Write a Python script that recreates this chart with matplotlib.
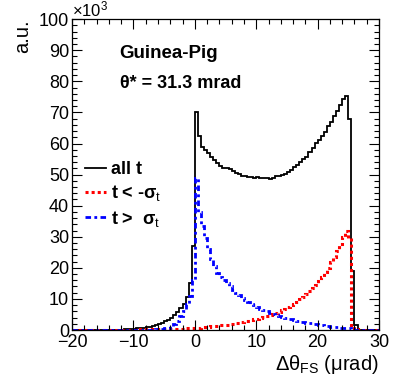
import numpy as np
import matplotlib
matplotlib.use("Agg")
import matplotlib.pyplot as plt
from matplotlib.ticker import MultipleLocator

plt.rcParams['font.family'] = ['Liberation Sans', 'DejaVu Sans']
plt.rcParams['mathtext.fontset'] = 'custom'
plt.rcParams['mathtext.rm'] = 'Liberation Sans'
plt.rcParams['mathtext.it'] = 'Liberation Sans'
plt.rcParams['mathtext.bf'] = 'Liberation Sans:bold'

# bin edges: -20 .. 30 urad, 0.5 urad wide
edges = np.arange(-20, 30.001, 0.5)

# all t  (x10^3 entries per bin)
all_left = [0, 0, 0, 0, 0, 0, 0, 0, 0, 0, 0, 0,
            0.03, 0.05, 0.08, 0.1, 0.15, 0.2, 0.25, 0.32,
            0.4, 0.5, 0.6, 0.75, 0.9, 1.1, 1.3, 1.6, 1.9, 2.3,
            2.8, 3.3, 4.0, 4.8, 5.8, 7.0, 8.5, 10.5, 15.0, 27.0]
all_right = [70.0,
             62.5, 59.0, 57.9, 56.8, 55.7, 54.6, 53.6, 52.7, 52.2, 52.0,
             51.7, 51.2, 50.6, 50.1, 49.7, 49.4, 49.3, 49.1, 49.0, 49.1,
             49.0, 48.9, 48.9, 48.7, 49.0, 49.4, 49.5, 49.8, 50.3, 50.9,
             51.6, 52.4, 53.0, 54.0, 54.9, 55.8, 57.2, 58.6, 60.2, 61.0,
             62.3, 63.8, 65.5, 67.0, 68.8, 70.5, 72.3, 74.2, 75.4,
             67.9, 19.0, 1.5,
             0, 0, 0, 0, 0, 0, 0]

# t < -sigma_t
red_left = [0.02, 0.02, 0.02, 0.02, 0.02, 0.03, 0.03, 0.03, 0.03, 0.04,
            0.04, 0.05, 0.05, 0.06, 0.07, 0.08, 0.09, 0.1, 0.11, 0.12,
            0.14, 0.15, 0.17, 0.19, 0.21, 0.23, 0.25, 0.27, 0.29, 0.31,
            0.33, 0.35, 0.37, 0.4, 0.42, 0.45, 0.48, 0.52, 0.56, 0.6]
red_right = [0.7, 0.8, 0.9, 1.0, 1.1, 1.25, 1.35, 1.45, 1.55, 1.65,
             1.75, 1.9, 2.0, 2.2, 2.35, 2.55, 2.75, 2.95, 3.2, 3.45,
             3.7, 3.95, 4.2, 4.5, 4.8, 5.1, 5.5, 5.9, 6.3, 6.8,
             7.3, 7.9, 8.5, 9.1, 9.9, 10.7, 11.5, 12.4, 13.4, 14.6,
             15.8, 17.1, 18.6, 20.1, 21.8, 23.6, 25.5, 27.6, 30.0, 32.0,
             29.5, 1.6, 0.3,
             0, 0, 0, 0, 0, 0, 0]

# t > sigma_t
blue_left = [0, 0, 0, 0, 0, 0, 0, 0, 0, 0,
             0, 0, 0, 0, 0, 0.01, 0.01, 0.02, 0.02, 0.03,
             0.03, 0.04, 0.05, 0.05, 0.06, 0.08, 0.12, 0.18, 0.25, 0.35,
             0.5, 0.8, 1.2, 1.8, 2.8, 4.5, 6.0, 8.5, 11.0, 16.0]
blue_right = [49.0, 38.0, 33.5, 29.5, 26.0, 23.0, 20.5, 18.5, 17.0, 16.0,
              15.0, 14.0, 13.0, 12.0, 11.2, 10.4, 9.7, 9.1, 8.5, 7.9,
              7.4, 6.9, 6.4, 6.0, 5.6, 5.2, 4.8, 4.5, 4.2, 3.9,
              3.6, 3.4, 3.1, 2.9, 2.7, 2.5, 2.3, 2.15, 2.0, 1.8,
              1.65, 1.5, 1.35, 1.25, 1.1, 1.0, 0.9, 0.8, 0.7, 0.6,
              0.5, 0.3, 0.05,
              0, 0, 0, 0, 0, 0, 0]

h_all = np.array(all_left + all_right)
h_red = np.array(red_left + red_right)
h_blue = np.array(blue_left + blue_right)

fig = plt.figure(figsize=(3.99, 3.84), dpi=100)
ax = fig.add_axes([0.1805, 0.1406, 0.7695, 0.8094])

ax.stairs(h_all, edges, color='black', linewidth=1.3, label='all t')
ax.stairs(h_red, edges, color='red', linewidth=2.2,
          linestyle=(0, (1, 1)), label='t < -σ$_{t}$')
ax.stairs(h_blue, edges, color='blue', linewidth=2.0,
          linestyle=(0, (2, 1.2, 1, 1.2)), label='t >  σ$_{t}$')

ax.set_xticks([-20, -10, 0, 10, 20, 30])
ax.set_xticklabels(['\u221220', '\u221210', '0', '10', '20', '30'])
ax.set_xlim(-20, 30)
ax.set_ylim(0, 100)

ax.xaxis.set_minor_locator(MultipleLocator(2))
ax.yaxis.set_major_locator(MultipleLocator(10))
ax.yaxis.set_minor_locator(MultipleLocator(2))
ax.tick_params(which='both', direction='in', top=True, right=True,
               labelsize=13, width=0.8)
ax.tick_params(which='major', length=7)
ax.tick_params(which='minor', length=3.5)
ax.tick_params(axis='x', pad=3)
ax.tick_params(axis='y', pad=2)

for s in ax.spines.values():
    s.set_linewidth(0.9)

ax.set_xlabel('Δθ$_{FS}$ (μrad)', loc='right', fontsize=14.5, labelpad=1)
ax.set_ylabel('a.u.', loc='top', fontsize=14.5, labelpad=5)
ax.text(0.0, 0.998, '×10$^{3}$', transform=ax.transAxes, fontsize=12,
        ha='left', va='bottom')

ax.text(0.155, 0.875, 'Guinea-Pig', transform=ax.transAxes, fontsize=13.5,
        fontweight='bold')
ax.text(0.155, 0.78, 'θ* = 31.3 mrad', transform=ax.transAxes, fontsize=13,
        fontweight='bold')

leg = ax.legend(loc='upper left', bbox_to_anchor=(0.0, 0.585),
                frameon=False, fontsize=13, handlelength=1.2,
                handletextpad=0.25, labelspacing=0.3, borderpad=0.2)
for t in leg.get_texts():
    t.set_fontweight('bold')

fig.savefig('out.png', dpi=100)
